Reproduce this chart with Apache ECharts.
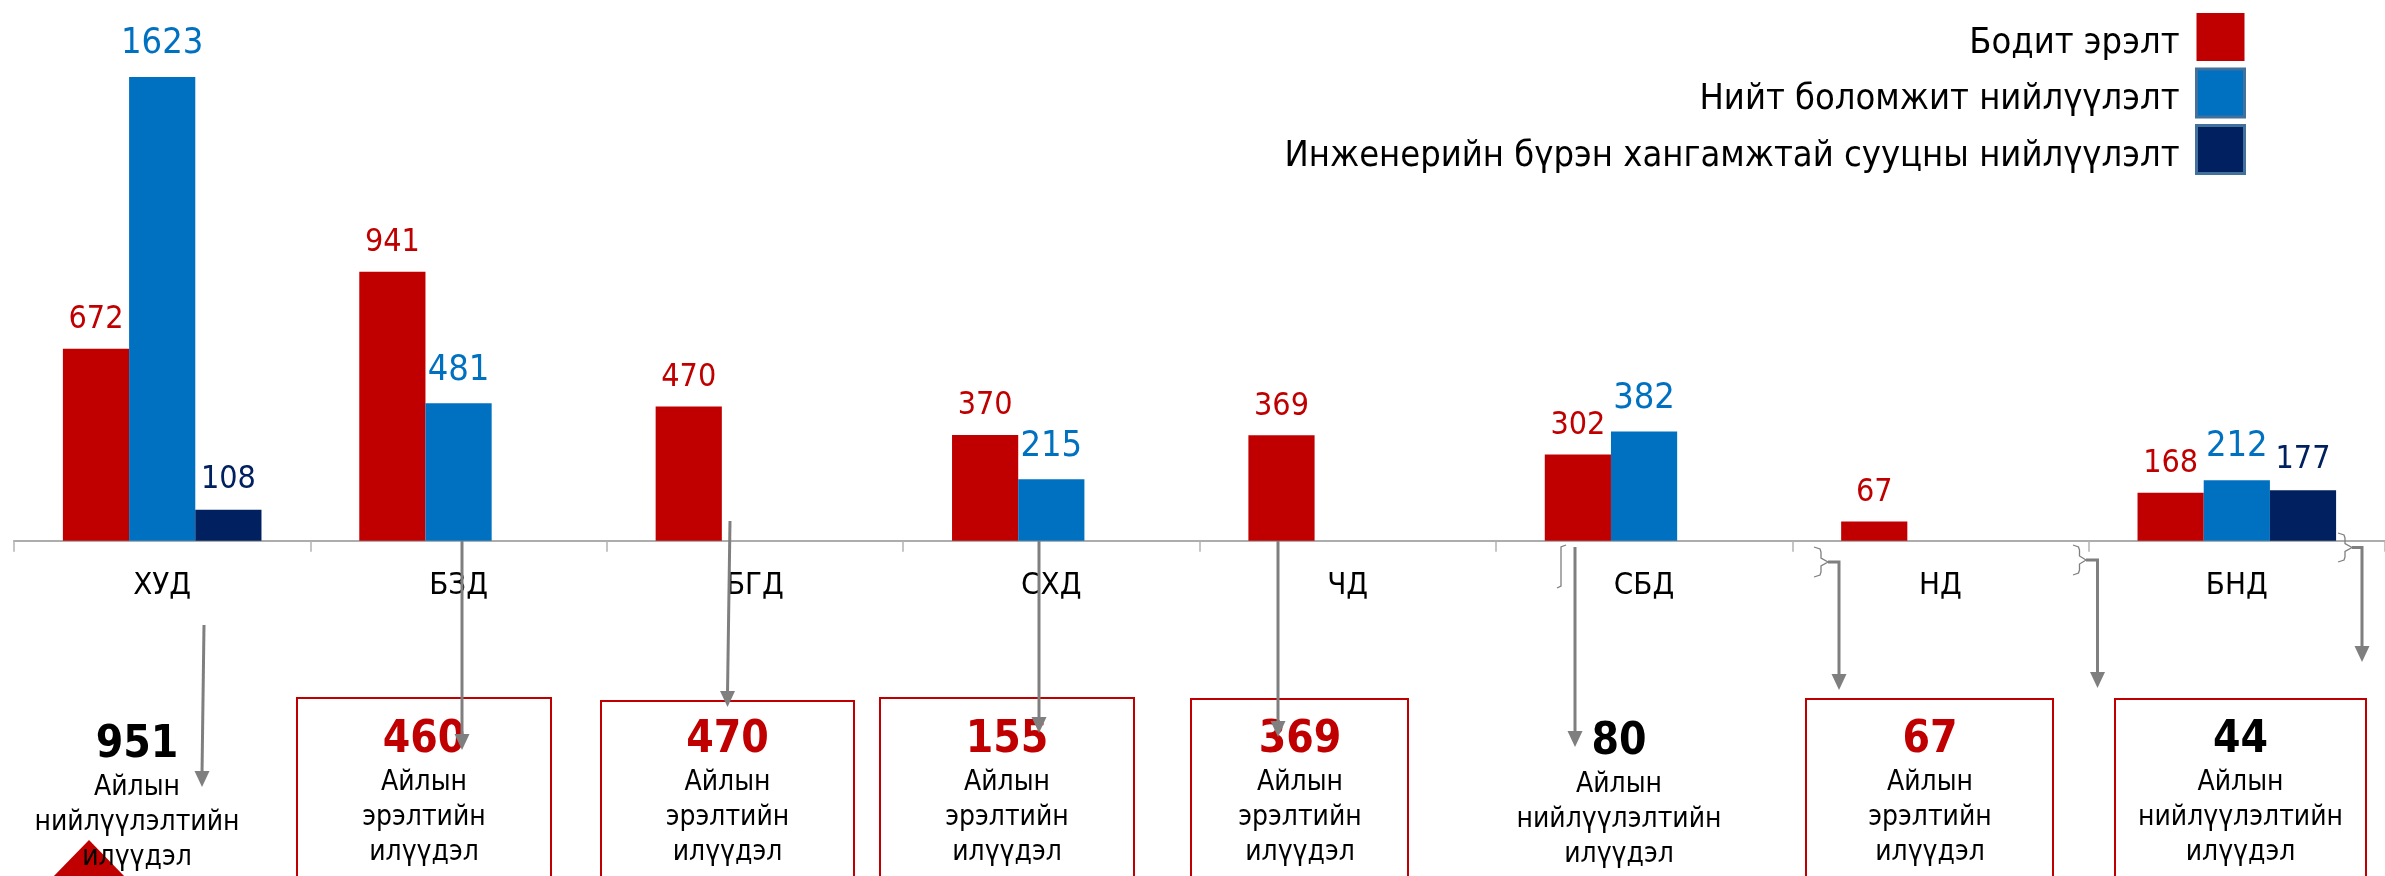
<!DOCTYPE html>
<html>
<head>
<meta charset="utf-8">
<title>Бодит эрэлт ба нийлүүлэлт</title>
<script src="https://cdn.jsdelivr.net/npm/echarts@6/dist/echarts.min.js"></script>
<style>
  html, body { margin: 0; padding: 0; background: #fff; }
  #chart { width: 2385px; height: 876px; }
</style>
</head>
<body>
<div id="chart"></div>
<script>
const categories = ['ХУД', 'БЗД', 'БГД', 'СХД', 'ЧД', 'СБД', 'НД', 'БНД'];
const actualDemand = [672, 941, 470, 370, 369, 302, 67, 168];
const totalSupply = [1623, 481, null, 215, null, 382, null, 212];
const fullServiceSupply = [108, null, null, null, null, null, null, 177];
const seriesNames = ['Бодит эрэлт', 'Нийт боломжит нийлүүлэлт', 'Инженерийн бүрэн хангамжтай сууцны нийлүүлэлт'];

// сарын илүүдэл: 'supply' = нийлүүлэлтийн илүүдэл, 'demand' = эрэлтийн илүүдэл
const surplusValues = [951, 460, 470, 155, 369, 80, 67, 44];
const surplusKinds = ['supply', 'demand', 'demand', 'demand', 'demand', 'supply', 'demand', 'supply'];

const FONT = '"DejaVu Sans Condensed", "Liberation Sans", sans-serif';
const RED = '#c00000', BLUE = '#0070c0', NAVY = '#002060', GREY = '#7f7f7f';

// слайдын тайлбар хэсгийн байрлал (px)
const noteLayout = [
  { cx: 137, top: 721, box: null },
  { cx: 424, top: 716, box: [297, 698, 254] },
  { cx: 727.5, top: 716, box: [601, 701, 253] },
  { cx: 1007, top: 716, box: [880, 698, 254] },
  { cx: 1300, top: 716, box: [1191, 699, 217] },
  { cx: 1619, top: 718, box: null },
  { cx: 1930, top: 716, box: [1806, 699, 247] },
  { cx: 2240.5, top: 716, box: [2115, 699, 251] }
];

function arrow(pts) {
  const tip = pts[pts.length - 1];
  const shaft = pts.slice(0, -1).concat([[tip[0], tip[1] - 13]]);
  return [
    { type: 'polyline', z: 10, shape: { points: shaft }, style: { stroke: GREY, lineWidth: 3, fill: null } },
    { type: 'polygon', z: 10, shape: { points: [[tip[0] - 7.5, tip[1] - 16], [tip[0] + 7.5, tip[1] - 16], tip] }, style: { fill: GREY } }
  ];
}

function brace(x0, x1, y0, y1) {
  const xm = (x0 + x1) / 2, ym = (y0 + y1) / 2;
  return {
    type: 'polyline', z: 10,
    shape: { points: [[x0, y0], [xm - 1, y0 + 2], [xm, y0 + 5], [xm, ym - 4], [x1, ym], [xm, ym + 4], [xm, y1 - 5], [xm - 1, y1 - 2], [x0, y1]] },
    style: { stroke: GREY, lineWidth: 1.3, fill: null }
  };
}

const graphics = [];
graphics.push({ type: 'polygon', z: 2, shape: { points: [[89, 840], [51, 879], [127, 879]] }, style: { fill: RED } });

surplusValues.forEach((v, i) => {
  const lay = noteLayout[i];
  const kind = surplusKinds[i];
  if (lay.box) {
    graphics.push({
      type: 'rect', z: 1,
      shape: { x: lay.box[0], y: lay.box[1], width: lay.box[2], height: 300 },
      style: { fill: null, stroke: RED, lineWidth: 2 }
    });
  }
  const numColor = kind === 'demand' ? RED : '#000';
  graphics.push({
    type: 'text', z: 3, x: lay.cx, y: lay.top,
    style: {
      text: '{n|' + v + '}\n{t|Айлын}\n{t|' + (kind === 'demand' ? 'эрэлтийн' : 'нийлүүлэлтийн') + '}\n{t|илүүдэл}',
      align: 'center', verticalAlign: 'top',
      rich: {
        n: { fontSize: 44, fontWeight: 'bold', fontFamily: FONT, fill: numColor, lineHeight: 49, align: 'center' },
        t: { fontSize: 28, fontFamily: FONT, fill: '#000', lineHeight: 35, align: 'center' }
      }
    }
  });
});

// сумтай холбогч шугамууд
graphics.push(...arrow([[204, 625], [202, 787]]));
graphics.push(...arrow([[462, 541], [462, 750]]));
graphics.push(...arrow([[730, 521], [727.5, 707]]));
graphics.push(...arrow([[1039, 541], [1039, 733]]));
graphics.push(...arrow([[1278, 541], [1278, 737]]));
graphics.push({ type: 'polyline', z: 10, shape: { points: [[1566, 545], [1561, 547], [1561, 586], [1557, 588]] }, style: { stroke: GREY, lineWidth: 1.3, fill: null } });
graphics.push(...arrow([[1575, 547], [1575, 747]]));
graphics.push(brace(1814, 1828, 547, 577));
graphics.push(...arrow([[1828, 562], [1839, 562], [1839, 690]]));
graphics.push(brace(2073, 2086, 545, 575));
graphics.push(...arrow([[2086, 560], [2097.5, 560], [2097.5, 688]]));
graphics.push(brace(2338, 2352, 533, 562));
graphics.push(...arrow([[2352, 547.5], [2362, 547.5], [2362, 662]]));

const chart = echarts.init(document.getElementById('chart'));

const option = {
  backgroundColor: '#fff',
  animation: false,
  textStyle: { fontFamily: FONT },
  grid: { left: 14, right: -13, top: 26.4, bottom: 335.3, containLabel: false },
  legend: {
    orient: 'vertical', right: 139, top: 13, align: 'right', padding: 0,
    itemWidth: 48, itemHeight: 48, itemGap: 5.5, icon: 'rect',
    selectedMode: false,
    formatter: name => '{s| }\n{t|' + name + '}',
    textStyle: {
      fontSize: 36, color: '#000', fontFamily: FONT, padding: [0, 12, 0, 0],
      rich: {
        s: { fontSize: 10, lineHeight: 14 },
        t: { fontSize: 36, lineHeight: 36, color: '#000', fontFamily: FONT }
      }
    },
    data: [
      { name: seriesNames[0] },
      { name: seriesNames[1], itemStyle: { borderColor: '#41719c', borderWidth: 3 } },
      { name: seriesNames[2], itemStyle: { borderColor: '#41719c', borderWidth: 3 } }
    ]
  },
  xAxis: {
    type: 'category',
    data: categories,
    axisLine: { show: true, lineStyle: { color: '#adadad', width: 2 } },
    axisTick: { show: true, length: 11, lineStyle: { color: '#b3b3b3', width: 1.5 } },
    axisLabel: { fontSize: 31, color: '#000', margin: 30, fontFamily: FONT }
  },
  yAxis: { type: 'value', min: 0, max: 1800, show: false },
  series: [
    {
      name: seriesNames[0], type: 'bar', data: actualDemand,
      barGap: '0%', barCategoryGap: '33%',
      itemStyle: { color: RED },
      label: { show: true, position: 'top', distance: 13, fontSize: 32, color: RED, fontFamily: FONT }
    },
    {
      name: seriesNames[1], type: 'bar', data: totalSupply,
      barGap: '0%', barCategoryGap: '33%',
      itemStyle: { color: BLUE },
      label: { show: true, position: 'top', distance: 15, fontSize: 36, color: BLUE, fontFamily: FONT }
    },
    {
      name: seriesNames[2], type: 'bar', data: fullServiceSupply,
      barGap: '0%', barCategoryGap: '33%',
      itemStyle: { color: NAVY },
      label: { show: true, position: 'top', distance: 14, fontSize: 32, color: NAVY, fontFamily: FONT }
    }
  ],
  graphic: { elements: graphics }
};

chart.setOption(option);
</script>
</body>
</html>
